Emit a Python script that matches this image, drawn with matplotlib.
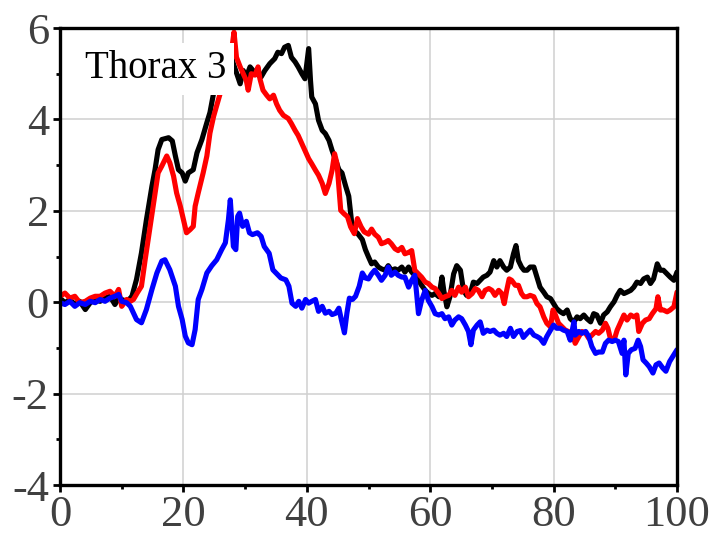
import matplotlib
matplotlib.use('Agg')
from matplotlib import pyplot
from matplotlib.ticker import MultipleLocator

# values
black_x = [0.0, 0.8, 1.6, 2.4, 3.2, 4.1, 4.9, 5.7, 6.5, 7.3, 8.1, 8.9, 9.5, 10.0, 10.8, 11.4,
           11.6, 12.4, 13.2, 14.0, 14.9, 15.4, 15.9, 16.5, 17.6, 18.2, 18.7, 19.2, 19.8, 20.3,
           20.8, 21.6, 22.2, 23.0, 23.8, 24.3, 24.9, 25.5, 26.3, 27.0, 27.5, 28.1, 29.2, 29.7,
           30.2, 30.8, 31.3, 31.8, 32.6, 33.2, 34.0, 34.8, 35.3, 35.9, 36.4, 37.0, 37.5, 38.1,
           38.6, 39.2, 39.7, 40.0, 40.3, 40.6, 40.8, 41.4, 41.9, 42.5, 43.0, 43.6, 44.1, 44.7,
           45.2, 45.7, 46.3, 46.8, 47.1, 47.4, 48.2, 49.0, 49.5, 50.0, 50.5, 51.0, 51.6, 52.1,
           52.7, 53.2, 53.7, 54.3, 54.8, 55.4, 55.9, 56.5, 57.0, 57.5, 58.1, 58.6, 59.2, 59.7,
           60.3, 60.8, 61.4, 61.9, 62.2, 62.7, 63.2, 63.8, 64.3, 64.9, 65.4, 65.9, 66.5, 67.0,
           67.6, 68.1, 68.6, 69.2, 69.7, 70.3, 70.8, 71.3, 71.9, 72.4, 73.0, 73.5, 73.9, 74.3,
           74.8, 75.2, 75.7, 76.2, 76.8, 77.3, 77.8, 78.4, 78.9, 79.5, 80.0, 80.5, 81.1, 81.6,
           82.2, 82.7, 83.3, 83.8, 84.3, 84.9, 85.4, 86.0, 86.5, 87.0, 87.6, 88.1, 88.7, 89.2,
           89.8, 90.3, 90.8, 91.4, 91.9, 92.5, 93.0, 93.5, 94.1, 94.6, 95.2, 95.7, 96.2, 96.8,
           97.3, 97.8, 98.4, 98.9, 99.5, 100.0]
black_y = [0.09, -0.01, 0.06, -0.05, 0.02, -0.16, -0.01, 0.06, 0.02, 0.09, 0.13, -0.05, 0.09, 0.06, 0.02, 0.09,
           0.1, 0.5, 1.08, 1.8, 2.54, 2.9, 3.34, 3.56, 3.6, 3.53, 3.2, 2.9, 2.83, 2.65,
           2.83, 2.9, 3.27, 3.56, 3.93, 4.15, 4.58, 4.9, 5.3, 5.45, 5.55, 5.22, 4.78, 5.07,
           4.93, 5.15, 5.07, 5.0, 4.93, 5.07, 5.22, 5.33, 5.47, 5.44, 5.58, 5.62, 5.36, 5.26,
           5.15, 5.0, 4.89, 5.22, 5.55, 4.85, 4.49, 4.34, 3.98, 3.76, 3.69, 3.54, 3.32, 3.1,
           2.9, 2.83, 2.54, 2.32, 1.95, 1.59, 1.51, 1.37, 1.15, 0.99, 0.84, 0.88, 0.77, 0.73,
           0.7, 0.8, 0.7, 0.73, 0.7, 0.77, 0.66, 0.77, 0.66, 0.59, 0.48, 0.37, 0.26, 0.19,
           0.15, 0.19, 0.12, 0.55, 0.26, -0.1, 0.12, 0.62, 0.8, 0.7, 0.26, 0.15, 0.19, 0.44,
           0.41, 0.48, 0.55, 0.59, 0.66, 0.91, 0.77, 0.91, 0.77, 0.7, 0.77, 1.06, 1.24, 0.91,
           0.77, 0.7, 0.7, 0.77, 0.77, 0.55, 0.33, 0.22, 0.12, 0.08, -0.03, -0.14, -0.21, -0.25,
           -0.17, -0.36, -0.43, -0.32, -0.36, -0.28, -0.36, -0.43, -0.25, -0.28, -0.46, -0.28, -0.21, -0.1,
           0.01, 0.15, 0.26, 0.19, 0.22, 0.26, 0.33, 0.44, 0.41, 0.51, 0.55, 0.41, 0.51, 0.84,
           0.7, 0.7, 0.62, 0.55, 0.48, 0.66]

red_x = [0.0, 0.8, 1.6, 2.4, 3.2, 4.1, 4.9, 5.7, 6.5, 7.3, 8.1, 8.9, 9.5, 10.0, 10.8, 11.4,
         11.9, 12.5, 13.2, 13.8, 14.6, 15.4, 15.9, 16.5, 17.3, 17.8, 18.4, 18.9, 19.5, 20.0,
         20.5, 21.1, 21.6, 21.9, 22.4, 23.2, 23.8, 24.3, 24.9, 25.9, 26.6, 27.3, 27.8, 28.2,
         28.6, 29.2, 29.7, 30.2, 30.5, 31.0, 31.6, 32.1, 32.4, 32.9, 33.5, 34.0, 34.6, 35.1,
         35.6, 36.2, 37.0, 37.5, 38.1, 38.6, 39.2, 39.7, 40.3, 40.8, 41.4, 41.9, 42.5, 43.0,
         43.6, 44.1, 44.5, 44.9, 45.5, 46.0, 46.6, 47.1, 47.7, 48.2, 48.8, 49.3, 50.0, 50.5,
         51.0, 51.6, 52.1, 52.7, 53.2, 53.7, 54.3, 54.8, 55.4, 55.9, 56.5, 57.0, 57.5, 58.1,
         58.6, 59.2, 59.7, 60.3, 60.8, 61.4, 61.9, 62.4, 63.0, 63.5, 64.0, 64.6, 65.1, 65.7,
         66.2, 66.8, 67.3, 67.8, 68.4, 68.9, 69.5, 70.0, 70.5, 71.1, 71.6, 72.0, 72.4, 72.8,
         73.2, 73.8, 74.3, 74.8, 75.2, 75.7, 76.2, 76.8, 77.3, 77.8, 78.4, 78.9, 79.5, 79.9,
         80.3, 80.8, 81.4, 81.9, 82.4, 83.0, 83.5, 84.1, 84.6, 85.2, 85.7, 86.2, 86.8, 87.3,
         87.9, 88.4, 88.8, 89.2, 89.8, 90.3, 90.8, 91.4, 91.9, 92.5, 93.0, 93.5, 93.8, 94.4,
         94.9, 95.5, 96.0, 96.6, 96.9, 97.3, 97.8, 98.4, 98.9, 99.5, 100.0]
red_y = [0.13, 0.2, 0.09, 0.13, -0.01, 0.02, 0.09, 0.13, 0.13, 0.2, 0.24, 0.13, 0.28, -0.09, 0.06, 0.02,
         0.06, 0.2, 0.35, 0.93, 1.66, 2.39, 2.83, 2.98, 3.2, 3.05, 2.76, 2.39, 2.1, 1.81,
         1.52, 1.59, 1.66, 2.1, 2.39, 2.83, 3.2, 3.7, 4.07, 4.54, 4.8, 5.07, 5.5, 5.91,
         5.36, 5.15, 5.0, 4.85, 4.64, 5.0, 4.97, 5.15, 4.89, 4.64, 4.53, 4.45, 4.53, 4.34,
         4.2, 4.09, 4.02, 3.91, 3.76, 3.65, 3.47, 3.32, 3.14, 3.03, 2.89, 2.78, 2.6, 2.38,
         2.6, 2.89, 3.25, 3.03, 2.01, 1.94, 1.87, 1.65, 1.5, 1.83, 1.65, 1.54, 1.49, 1.6,
         1.49, 1.42, 1.28, 1.31, 1.35, 1.28, 1.17, 1.13, 1.2, 1.06, 1.09, 1.13, 0.7, 0.62,
         0.55, 0.44, 0.41, 0.33, 0.3, 0.19, 0.08, 0.12, 0.15, 0.26, 0.15, 0.33, 0.22, 0.33,
         0.12, 0.19, 0.3, 0.26, 0.12, 0.26, 0.3, 0.26, 0.15, 0.26, 0.19, -0.03, 0.26, 0.51,
         0.48, 0.37, 0.37, 0.19, 0.12, 0.12, 0.15, 0.12, -0.03, -0.1, -0.32, -0.46, -0.54, -0.17,
         -0.28, -0.46, -0.54, -0.61, -0.64, -0.68, -0.9, -0.75, -0.64, -0.68, -0.79, -0.72, -0.64, -0.68,
         -0.61, -0.46, -0.57, -0.79, -0.83, -0.61, -0.46, -0.28, -0.39, -0.28, -0.32, -0.28, -0.64, -0.46,
         -0.39, -0.36, -0.25, -0.14, 0.12, -0.17, -0.17, -0.21, -0.17, -0.1, 0.22]

blue_x = [0.0, 0.8, 1.6, 2.4, 3.2, 4.1, 4.9, 5.7, 6.5, 7.3, 8.1, 8.9, 9.5, 10.0, 10.8, 11.4,
          12.4, 13.2, 14.0, 14.9, 15.7, 16.5, 17.0, 17.8, 18.7, 19.2, 19.8, 20.3, 20.8, 21.4,
          21.9, 22.4, 23.0, 23.8, 24.6, 25.4, 26.2, 26.8, 27.3, 27.6, 28.1, 28.5, 28.8, 29.1,
          29.6, 30.2, 30.7, 31.2, 32.0, 32.6, 33.1, 33.9, 34.5, 35.0, 35.8, 36.6, 37.1, 37.6,
          38.2, 38.7, 39.2, 39.8, 40.3, 40.8, 41.4, 41.9, 42.5, 43.0, 43.6, 44.1, 44.7, 45.2,
          45.6, 46.1, 46.5, 46.9, 47.4, 47.9, 48.5, 49.0, 49.5, 50.0, 50.5, 51.0, 51.6, 52.1,
          52.7, 53.2, 53.7, 54.3, 54.8, 55.4, 55.9, 56.5, 57.0, 57.5, 57.8, 58.1, 58.6, 59.2,
          59.7, 60.3, 60.8, 61.4, 61.9, 62.4, 63.0, 63.5, 64.0, 64.6, 65.1, 65.7, 66.2, 66.6,
          67.0, 67.6, 68.1, 68.6, 69.2, 69.7, 70.3, 70.8, 71.3, 71.9, 72.4, 73.0, 73.5, 74.1,
          74.6, 75.1, 75.7, 76.2, 76.8, 77.3, 77.8, 78.4, 78.9, 79.5, 80.0, 80.5, 81.1, 81.6,
          82.2, 82.7, 83.3, 83.5, 84.1, 84.6, 85.2, 85.7, 86.2, 86.8, 87.3, 87.9, 88.4, 88.9,
          89.5, 90.0, 90.5, 91.1, 91.4, 91.7, 92.1, 92.6, 93.2, 93.7, 94.1, 94.5, 95.0, 95.5,
          96.1, 96.6, 97.1, 97.7, 98.2, 98.8, 99.3, 100.0]
blue_y = [-0.01, -0.05, 0.02, -0.09, -0.01, -0.05, 0.02, -0.01, 0.06, 0.02, 0.09, 0.13, 0.17, 0.02, -0.01, -0.09,
          -0.38, -0.45, -0.16, 0.28, 0.64, 0.9, 0.93, 0.71, 0.35, -0.09, -0.38, -0.74, -0.89, -0.93,
          -0.6, 0.06, 0.28, 0.64, 0.8, 0.93, 1.15, 1.3, 1.81, 2.24, 1.22, 1.15, 1.88, 1.95,
          1.66, 1.77, 1.52, 1.48, 1.52, 1.44, 1.22, 1.07, 0.71, 0.64, 0.53, 0.49, 0.35, -0.02,
          -0.09, 0.02, -0.13, 0.06, -0.02, 0.02, 0.06, -0.2, -0.09, -0.24, -0.2, -0.27, -0.24, -0.13,
          -0.38, -0.67, -0.24, 0.09, 0.06, 0.13, 0.35, 0.64, 0.53, 0.51, 0.62, 0.7, 0.59, 0.48,
          0.59, 0.77, 0.59, 0.66, 0.59, 0.55, 0.55, 0.33, 0.48, 0.59, 0.19, -0.25, 0.04, 0.26,
          0.04, -0.1, -0.25, -0.28, -0.25, -0.36, -0.32, -0.5, -0.39, -0.32, -0.36, -0.5, -0.64, -0.93,
          -0.61, -0.5, -0.43, -0.68, -0.61, -0.64, -0.61, -0.68, -0.72, -0.68, -0.75, -0.57, -0.75, -0.64,
          -0.62, -0.77, -0.68, -0.61, -0.72, -0.75, -0.79, -0.9, -0.75, -0.61, -0.5, -0.57, -0.57, -0.61,
          -0.64, -0.83, -0.43, -0.72, -0.64, -0.68, -0.64, -0.75, -0.97, -1.12, -1.09, -1.09, -0.9, -0.83,
          -0.86, -0.83, -0.86, -1.12, -0.83, -1.59, -1.12, -1.04, -1.01, -0.83, -0.97, -1.26, -1.33, -1.41,
          -1.55, -1.37, -1.33, -1.44, -1.51, -1.3, -1.19, -1.04]

label = 'Thorax 3'
grey = '#404040'

pyplot.rcParams['font.family'] = ['Liberation Serif', 'DejaVu Serif']
pyplot.rcParams['axes.unicode_minus'] = False

fig = pyplot.figure(figsize=(7.17, 5.37), dpi=100)
ax = fig.add_axes([0.0837, 0.0968, 0.8605, 0.8510])

style = dict(lw=3.7, solid_joinstyle='round', solid_capstyle='round')
ax.plot(black_x, black_y, c='black', zorder=3, **style)
ax.plot(red_x, red_y, c='#ff0000', zorder=4, **style)
ax.plot(blue_x, blue_y, c='#0000ff', zorder=5, **style)

ax.set_xlim(0, 100)
ax.set_ylim(-4, 6)
ax.xaxis.set_major_locator(MultipleLocator(20))
ax.xaxis.set_minor_locator(MultipleLocator(10))
ax.yaxis.set_major_locator(MultipleLocator(2))
ax.yaxis.set_minor_locator(MultipleLocator(1))
ax.grid(True, which='major', color='#d0d0d0', lw=1.1, zorder=0)
ax.set_axisbelow(True)

for s in ax.spines.values():
    s.set_linewidth(2.4)
    s.set_color('black')
    s.set_zorder(10)

ax.tick_params(which='major', direction='out', length=5, width=2, color='black',
               labelsize=32, labelcolor=grey, pad=3)
ax.tick_params(axis='x', which='major', pad=2)
ax.tick_params(which='minor', direction='out', length=3, width=2, color='black')

ax.text(4.1, 4.9, label, fontsize=28, color='black', ha='left', va='baseline', zorder=8,
        bbox=dict(boxstyle='square,pad=0.2', fc='white', ec='none'))

fig.savefig('out.png', dpi=100)
